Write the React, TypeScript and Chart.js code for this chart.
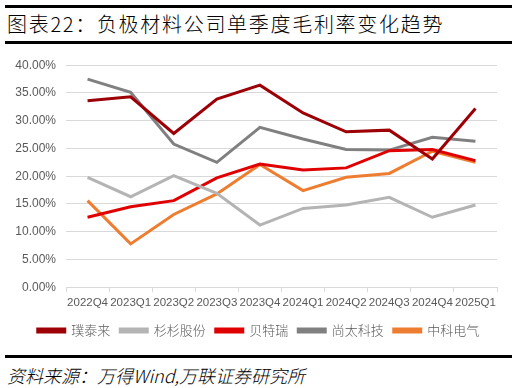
import React, { useEffect, useRef } from "react";
import { Chart, registerables } from "chart.js";

Chart.register(...registerables);

const categories = ["2022Q4", "2023Q1", "2023Q2", "2023Q3", "2023Q4", "2024Q1", "2024Q2", "2024Q3", "2024Q4", "2025Q1"];
const putailai = [33.6, 34.3, 27.7, 33.9, 36.4, 31.4, 28.0, 28.3, 23.1, 32.2];
const shanshan = [19.8, 16.3, 20.1, 16.9, 11.2, 14.2, 14.8, 16.2, 12.6, 14.8];
const btr = [12.6, 14.5, 15.6, 19.7, 22.2, 21.1, 21.5, 24.6, 24.8, 22.8];
const shangtai = [37.5, 35.1, 25.8, 22.5, 28.8, 26.7, 24.8, 24.7, 27.0, 26.3];
const zhongke = [15.6, 7.8, 13.1, 16.8, 22.1, 17.4, 19.8, 20.5, 24.5, 22.5];
const seriesNames = ["璞泰来", "杉杉股份", "贝特瑞", "尚太科技", "中科电气"];
const seriesColors = ["#9C0006", "#B4B4B4", "#E00000", "#808080", "#ED7D31"];
const yTicks = [0, 5, 10, 15, 20, 25, 30, 35, 40];

const title = "图表22：负极材料公司单季度毛利率变化趋势";
const source = "资料来源：万得Wind,万联证券研究所";

export default function App() {
  const ref = useRef<HTMLCanvasElement | null>(null);
  useEffect(() => {
    if (!ref.current) return;
    const data = [putailai, shanshan, btr, shangtai, zhongke];
    const chart = new Chart(ref.current, {
      type: "line",
      data: {
        labels: categories,
        datasets: data.map((d, i) => ({
          label: seriesNames[i],
          data: d,
          borderColor: seriesColors[i],
          backgroundColor: seriesColors[i],
          borderWidth: 3,
          pointRadius: 0,
          tension: 0,
        })),
      },
      options: {
        animation: false,
        responsive: false,
        maintainAspectRatio: false,
        layout: { padding: { left: 0, right: 0, top: 15, bottom: 1 } },
        plugins: {
          tooltip: { enabled: false },
          legend: {
            position: "bottom",
            labels: {
              boxWidth: 27,
              boxHeight: 3,
              padding: 10,
              color: "#595959",
              font: { family: "'Noto Sans CJK SC'", size: 13, weight: "300" },
            },
          },
        },
        scales: {
          x: {
            offset: true,
            grid: { offset: true, drawOnChartArea: false, drawTicks: true, tickLength: 5, color: "#D9D9D9" },
            border: { color: "#D9D9D9" },
            ticks: {
              autoSkip: false,
              maxRotation: 0,
              minRotation: 0,
              padding: 4,
              color: "#595959",
              font: { family: "'Liberation Sans'", size: 11.5 },
            },
          },
          y: {
            min: 0,
            max: 40,
            afterFit: (s: any) => { s.width = 66; },
            afterBuildTicks: (s: any) => { s.ticks = yTicks.map((v) => ({ value: v })); },
            grid: { color: "#D9D9D9", drawTicks: false },
            border: { display: false },
            ticks: {
              padding: 10,
              color: "#595959",
              font: { family: "'Liberation Sans'", size: 12 },
              callback: (v: any) => Number(v).toFixed(2) + "%",
            },
          },
          yRight: {
            type: "linear",
            position: "right",
            display: true,
            min: 0,
            max: 40,
            afterFit: (s: any) => { s.width = 20; },
            grid: { display: false },
            border: { display: false },
            ticks: { display: false },
          },
        },
      },
    });
    return () => chart.destroy();
  }, []);

  return (
    <div style={{ position: "fixed", left: 0, top: 0, width: 517, height: 388, background: "#fff", overflow: "hidden" }}>
      <div style={{ position: "absolute", left: 5, width: 507, top: 5, height: 3, background: "#000" }} />
      <div style={{ position: "absolute", left: 7, top: 10, fontFamily: "'Noto Sans CJK SC'", fontWeight: 300, fontSize: 20, lineHeight: "28px", color: "#000", letterSpacing: 1.7, whiteSpace: "nowrap" }}>{title}</div>
      <div style={{ position: "absolute", left: 5, width: 507, top: 41, height: 3, background: "#000" }} />
      <canvas ref={ref} width={517} height={300} style={{ position: "absolute", left: 0, top: 48, width: 517, height: 300 }} />
      <div style={{ position: "absolute", left: 5, width: 507, top: 355, height: 3, background: "#000" }} />
      <div style={{ position: "absolute", left: 7, top: 362, fontFamily: "'Noto Sans CJK SC'", fontWeight: 300, fontStyle: "italic", fontSize: 18, lineHeight: "26px", color: "#000", whiteSpace: "nowrap" }}>{source}</div>
    </div>
  );
}
